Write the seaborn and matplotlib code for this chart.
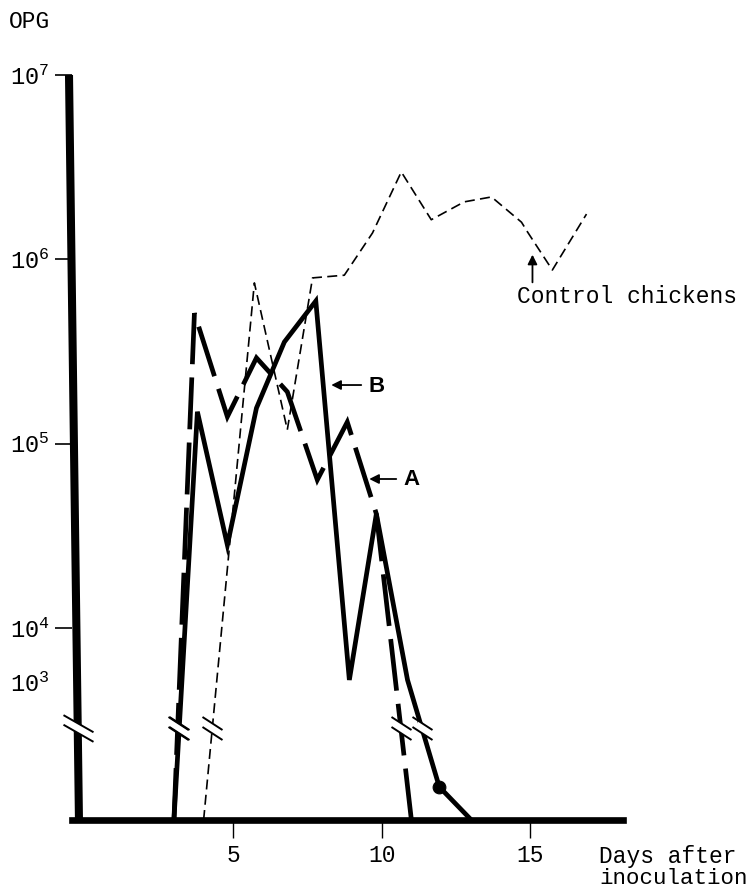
import numpy as np
import matplotlib
matplotlib.use("Agg")
import matplotlib.pyplot as plt
import matplotlib.transforms as mtransforms
from matplotlib.path import Path
import seaborn as sns

# ---------------- data ----------------
b_days = [3.0, 3.79, 4.80, 5.78, 6.72, 7.78, 8.91, 9.82, 10.87, 11.94, 13.02]
b_opg = [0, 1.49e5, 2.82e4, 1.56e5, 3.56e5, 5.94e5, 1.09e3, 4.16e4, 1.09e3, 2.4e2, 0]

a_days = [3.0, 3.69, 4.80, 5.78, 6.82, 7.83, 8.84, 9.82, 11.0]
a_opg = [0, 5.1e5, 1.40e5, 2.92e5, 1.91e5, 6.36e4, 1.31e5, 4.16e4, 0]

c_days = [4.0, 5.71, 6.82, 7.67, 8.74, 9.69, 10.66, 11.67, 12.78, 13.70, 14.71, 14.91, 15.75, 16.90]
c_opg = [0, 7.45e5, 1.19e5, 7.93e5, 8.2e5, 1.39e6, 2.98e6, 1.64e6, 2.05e6, 2.18e6,
         1.59e6, 1.41e6, 8.75e5, 1.76e6]

b_dot_index = 9                      # the filled point on curve B
break_value = 667                    # level of the axis / curve breaks

y_ticks = [1e3, 1e4, 1e5, 1e6, 1e7]
y_tick_labels = [r"$\mathregular{10^{3}}$", r"$\mathregular{10^{4}}$", r"$\mathregular{10^{5}}$",
                 r"$\mathregular{10^{6}}$", r"$\mathregular{10^{7}}$"]
x_ticks = [5, 10, 15]
x_tick_labels = ["5", "10", "15"]

# ---------------- broken y scale ----------------
LIN_H = 138.0    # 0 .. 1e3 (linear, below the break)
COMP_H = 54.0    # 1e3 .. 1e4 (compressed decade)
DEC_H = 184.3    # each decade above 1e4


def fwd(v):
    v = np.asarray(v, dtype=float)
    lv = np.log10(np.maximum(v, 1e-12))
    return np.where(v <= 1e3, v / 1e3 * LIN_H,
                    np.where(v <= 1e4, LIN_H + (lv - 3) * COMP_H,
                             LIN_H + COMP_H + (lv - 4) * DEC_H))


def inv(p):
    p = np.asarray(p, dtype=float)
    with np.errstate(over="ignore"):
        return np.where(p <= LIN_H, p / LIN_H * 1e3,
                        np.where(p <= LIN_H + COMP_H, 10 ** (3 + (p - LIN_H) / COMP_H),
                                 10 ** (4 + (p - LIN_H - COMP_H) / DEC_H)))


def crossings(days, vals, level):
    p = fwd(vals)
    lp = float(fwd(level))
    out = []
    for i in range(len(p) - 1):
        if (p[i] - lp) * (p[i + 1] - lp) < 0:
            t = (lp - p[i]) / (p[i + 1] - p[i])
            out.append(days[i] + t * (days[i + 1] - days[i]))
    return out


DPI = 100


def break_paths(half_w, slope, half_sep, gap_half):
    """two parallel slashes + white gap between them (sizes in pixels)"""
    s = slope * half_w
    v = np.array([(-half_w, s + half_sep), (half_w, -s + half_sep),
                  (-half_w, s - half_sep), (half_w, -s - half_sep)])
    slash = Path(v, [Path.MOVETO, Path.LINETO, Path.MOVETO, Path.LINETO])
    ms_slash = 2 * np.abs(v).max() * 72 / DPI
    g = gap_half
    w = np.array([(-g, slope * g + half_sep), (g, -slope * g + half_sep),
                  (g, -slope * g - half_sep), (-g, slope * g - half_sep),
                  (-g, slope * g + half_sep)])
    white = Path(w, [Path.MOVETO, Path.LINETO, Path.LINETO, Path.LINETO, Path.CLOSEPOLY])
    ms_white = 2 * np.abs(w).max() * 72 / DPI
    return slash, ms_slash, white, ms_white


# ---------------- figure ----------------
sns.set_style("white")
plt.rcParams["font.family"] = ["Liberation Mono", "DejaVu Sans"]
plt.rcParams["mathtext.fontset"] = "custom"
plt.rcParams["mathtext.rm"] = "Liberation Mono"
plt.rcParams["text.color"] = "black"

W, H = 756, 888
fig = plt.figure(figsize=(W / DPI, H / DPI), dpi=DPI)
ax_l, ax_r, ax_t, ax_b = 72, 623, 75, 820
ax = fig.add_axes([ax_l / W, (H - ax_b) / H, (ax_r - ax_l) / W, (ax_b - ax_t) / H])
ax.set_yscale("function", functions=(fwd, inv))

sns.lineplot(x=b_days, y=b_opg, ax=ax, color="black", lw=3.4, sort=False,
             estimator=None, solid_joinstyle="miter", zorder=3)
sns.lineplot(x=a_days, y=a_opg, ax=ax, color="black", lw=3.4, sort=False,
             estimator=None, linestyle=(0, (11, 2.8)), dash_joinstyle="miter",
             dash_capstyle="butt", zorder=3)
sns.lineplot(x=c_days, y=c_opg, ax=ax, color="black", lw=1.2, sort=False,
             estimator=None, linestyle=(0, (6, 3.2)), zorder=3)
sns.scatterplot(x=[b_days[b_dot_index]], y=[b_opg[b_dot_index]], ax=ax, s=85,
                color="black", edgecolor="black", zorder=4)

px_per_day = (381.7 - 233.3) / 5
x0 = 5 - (233.3 - ax_l) / px_per_day
x1 = 5 + (ax_r - 233.3) / px_per_day
ax.set_xlim(x0, x1)
ax.set_ylim(0, 1e7)

# axes styling
for side in ["top", "right", "left"]:
    ax.spines[side].set_visible(False)
ax.spines["bottom"].set_linewidth(4.8)
ax.spines["bottom"].set_color("black")
# slightly slanted, hand-drawn looking y axis
ax.plot([(69 - ax_l) / (ax_r - ax_l), (79 - ax_l) / (ax_r - ax_l)], [1, -0.004],
        transform=ax.transAxes, color="black", lw=5.8, solid_capstyle="butt",
        clip_on=False, zorder=5)

ax.set_yticks(y_ticks)
ax.set_yticklabels(y_tick_labels)
ax.minorticks_off()
ax.set_xticks(x_ticks)
ax.set_xticklabels(x_tick_labels)
ax.tick_params(axis="y", left=True, direction="out", length=12.2, width=1.2,
               pad=4, labelsize=17, colors="black")
ax.tick_params(axis="x", bottom=True, direction="out", length=13, width=1.0,
               pad=4, labelsize=16.5, colors="black")
ax.yaxis.get_major_ticks()[0].tick1line.set_visible(False)
ax.set_xlabel("")
ax.set_ylabel("")

# breaks on the curves
slash, ms_s, white, ms_w = break_paths(10, 0.65, 5, 4.5)
bx = crossings(b_days, b_opg, break_value) + crossings(a_days, a_opg, break_value) + \
     crossings(c_days, c_opg, break_value)
for xb in bx:
    ax.plot([xb], [break_value], marker=white, ms=ms_w, mfc="white", mec="white",
            mew=0, ls="none", zorder=6)
    ax.plot([xb], [break_value], marker=slash, ms=ms_s, mfc="none", mec="black",
            mew=1.4, ls="none", zorder=7)

# break on the y axis
slash2, ms_s2, white2, ms_w2 = break_paths(15, 0.57, 4.8, 6)
bt = mtransforms.blended_transform_factory(ax.transAxes, ax.transData)
xa = (77.8 - ax_l) / (ax_r - ax_l)
ax.plot([xa], [break_value], marker=white2, ms=ms_w2, mfc="white", mec="white",
        mew=0, ls="none", zorder=8, transform=bt, clip_on=False)
ax.plot([xa], [break_value], marker=slash2, ms=ms_s2, mfc="none", mec="black",
        mew=1.4, ls="none", zorder=9, transform=bt, clip_on=False)

# annotations
arrow = dict(arrowstyle="-|>", color="black", lw=1.3, mutation_scale=14,
             shrinkA=0, shrinkB=0)
ax.annotate("", xy=(8.30, 2.08e5), xytext=(9.31, 2.08e5), arrowprops=arrow, zorder=8)
ax.text(9.82, 2.03e5, "B", family="Liberation Sans", fontweight="bold",
        fontsize=16, ha="center", va="center")
ax.annotate("", xy=(9.58, 6.43e4), xytext=(10.49, 6.43e4), arrowprops=arrow, zorder=8)
ax.text(11.0, 6.4e4, "A", family="Liberation Sans", fontweight="bold",
        fontsize=16, ha="center", va="center")
ax.annotate("", xy=(15.08, 1.06e6), xytext=(15.08, 7.5e5), arrowprops=arrow, zorder=8)
ax.text(14.57, 6.25e5, "Control chickens", fontsize=16.5, ha="left", va="center")

fig.text(9 / W, 1 - 21 / H, "OPG", fontsize=16.5, ha="left", va="center")
fig.text(599 / W, 1 - 856 / H, "Days after", fontsize=16.5, ha="left", va="center")
fig.text(599 / W, 1 - 878 / H, "inoculation", fontsize=16.2, ha="left", va="center")

fig.savefig("out.png", dpi=DPI, facecolor="white")
